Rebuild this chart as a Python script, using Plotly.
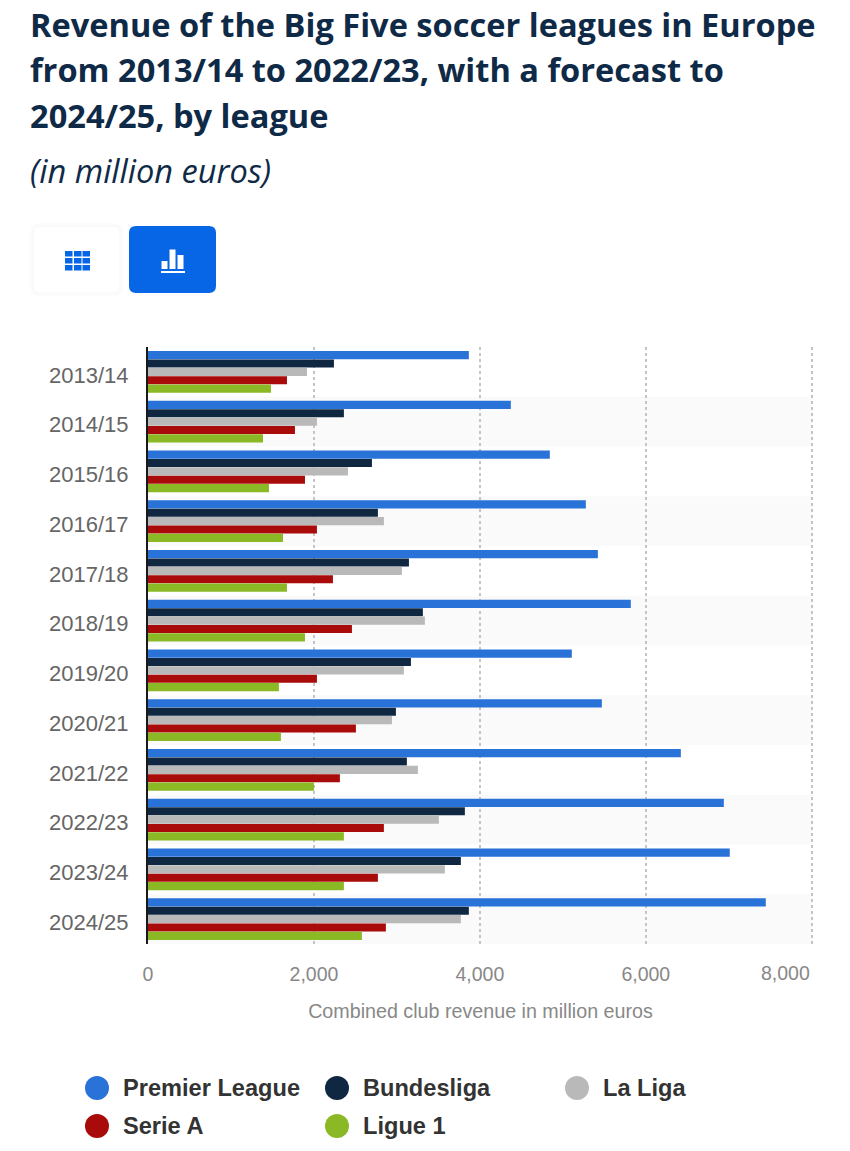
import plotly.graph_objects as go

seasons = ['2013/14', '2014/15', '2015/16', '2016/17', '2017/18', '2018/19',
           '2019/20', '2020/21', '2021/22', '2022/23', '2023/24', '2024/25']
premier_league = [3867, 4373, 4843, 5277, 5422, 5819, 5108, 5470, 6422, 6940, 7012, 7446]
bundesliga = [2241, 2361, 2699, 2771, 3145, 3313, 3169, 2988, 3120, 3819, 3771, 3867]
la_liga = [1916, 2036, 2410, 2843, 3060, 3337, 3084, 2940, 3253, 3506, 3578, 3771]
serie_a = [1675, 1771, 1892, 2036, 2229, 2458, 2036, 2506, 2313, 2843, 2771, 2867]
ligue_1 = [1482, 1386, 1458, 1627, 1675, 1892, 1578, 1602, 2000, 2361, 2361, 2578]

league_names = ['Premier League', 'Bundesliga', 'La Liga', 'Serie A', 'Ligue 1']
league_colors = ['#2872d8', '#0f2741', '#b9b9b9', '#a90a0a', '#8ab925']
league_values = [premier_league, bundesliga, la_liga, serie_a, ligue_1]

x_ticks = [0, 2000, 4000, 6000, 8000]
x_tick_labels = ['0', '2,000', '4,000', '6,000', '']

title_lines = ['Revenue of the Big Five soccer leagues in Europe',
               'from 2013/14 to 2022/23, with a forecast to',
               '2024/25, by league']

# plot area in page pixels
W, H = 850, 1151
LEFT, RIGHT, TOP, BOTTOM = 148, 813, 347, 944


def px_x(x):
    return (x - LEFT) / (RIGHT - LEFT)


def px_y(y):
    return (BOTTOM - y) / (BOTTOM - TOP)


def rect(x0, y0, x1, y1, color):
    return dict(type='rect', xref='paper', yref='paper', x0=px_x(x0), x1=px_x(x1),
                y0=px_y(y0), y1=px_y(y1), fillcolor=color, line_width=0, layer='above')


def rounded(x0, y0, x1, y1, r, fill, line='rgba(0,0,0,0)'):
    a, b, c, d = px_x(x0), px_x(x1), px_y(y0), px_y(y1)
    rx, ry = r / (RIGHT - LEFT), r / (BOTTOM - TOP)
    path = (f'M {a+rx} {c} L {b-rx} {c} Q {b} {c} {b} {c-ry} L {b} {d+ry} Q {b} {d} {b-rx} {d} '
            f'L {a+rx} {d} Q {a} {d} {a} {d+ry} L {a} {c-ry} Q {a} {c} {a+rx} {c} Z')
    return dict(type='path', xref='paper', yref='paper', path=path, fillcolor=fill,
                line=dict(color=line, width=1), layer='above')


def text(x, y, s, size, color, family='Liberation Sans', xanchor='left', **kw):
    return dict(xref='paper', yref='paper', x=px_x(x), y=px_y(y), text=s, showarrow=False,
                xanchor=xanchor, yanchor='middle', align='left',
                font=dict(family=family, size=size, color=color), **kw)


fig = go.Figure()
for name, color, values in zip(league_names, league_colors, league_values):
    fig.add_trace(go.Bar(y=seasons, x=values, name=name, orientation='h',
                         marker=dict(color=color, line_width=0), showlegend=False))

shapes = []
# alternating row bands
for i in range(1, len(seasons), 2):
    shapes.append(dict(type='rect', xref='x domain', yref='y', x0=0, x1=0.999, y0=i - 0.5, y1=i + 0.5,
                       fillcolor='#fafafa', line_width=0, layer='below'))

# table / chart toggle buttons
shapes.append(rounded(30, 223, 123, 296, 8, 'rgba(0,0,0,0.012)'))
shapes.append(rounded(33, 226, 120, 293, 7, '#ffffff', '#f7f7f7'))
shapes.append(rounded(129, 226, 216, 293, 7, '#0666e6'))
for col in [65, 74, 82.5]:
    for row in [251, 258, 265]:
        shapes.append(rect(col, row, col + 7.5, row + 5.5, '#0666e6'))
shapes.append(rect(161.5, 261, 167.5, 269, '#ffffff'))
shapes.append(rect(169.5, 249.5, 175.5, 269, '#ffffff'))
shapes.append(rect(177.5, 255, 183.5, 269, '#ffffff'))
shapes.append(rect(161, 271, 185, 273, '#ffffff'))

annotations = []
for line, y in zip(title_lines, [24.5, 69.5, 115.5]):
    annotations.append(text(27.5, y, f'<b>{line}</b>', 32.6, '#0f2a47', 'Open Sans'))
annotations.append(text(27.5, 170.5, '<i>(in million euros)</i>', 32.6, '#0f2a47', 'Open Sans'))
annotations.append(text(812, 973, '8,000', 19.5, '#888888', xanchor='right'))

# legend, drawn by hand for its round markers and wide columns
legend_x = [97, 337, 577, 97, 337]
legend_y = [1088, 1088, 1088, 1126, 1126]
for name, color, x, y in zip(league_names, league_colors, legend_x, legend_y):
    shapes.append(dict(type='circle', xref='paper', yref='paper', x0=px_x(x - 12), x1=px_x(x + 12),
                       y0=px_y(y - 12), y1=px_y(y + 12), fillcolor=color, line_width=0))
    annotations.append(text(x + 24, y, f'<b>{name}</b>', 23.6, '#333333'))

fig.update_layout(
    width=W, height=H,
    margin=dict(l=LEFT, r=W - RIGHT, t=TOP, b=H - BOTTOM, pad=0),
    paper_bgcolor='#ffffff', plot_bgcolor='rgba(0,0,0,0)',
    barmode='group', bargap=0.16, bargroupgap=0.03,
    shapes=shapes, annotations=annotations,
    xaxis=dict(range=[0, 8015], tickvals=x_ticks, ticktext=x_tick_labels, ticks='',
               showgrid=True, gridcolor='#c4c4c4', griddash='dot', gridwidth=1.5, zeroline=False,
               ticklabelstandoff=16,
               tickfont=dict(family='Liberation Sans', size=19.5, color='#888888'),
               title=dict(text='Combined club revenue in million euros', standoff=20,
                          font=dict(family='Liberation Sans', size=19.7, color='#888888'))),
    yaxis=dict(autorange='reversed', showline=True, linecolor='#1a1a1a', linewidth=2, ticks='',
               showgrid=False, zeroline=False, ticklabelstandoff=13, ticklabelshift=-3,
               tickfont=dict(family='Liberation Sans', size=22, color='#666666')),
)

fig.write_html('out.html', config=dict(displayModeBar=False),
               post_script="document.body.style.margin='0';document.body.style.overflow='hidden';")
